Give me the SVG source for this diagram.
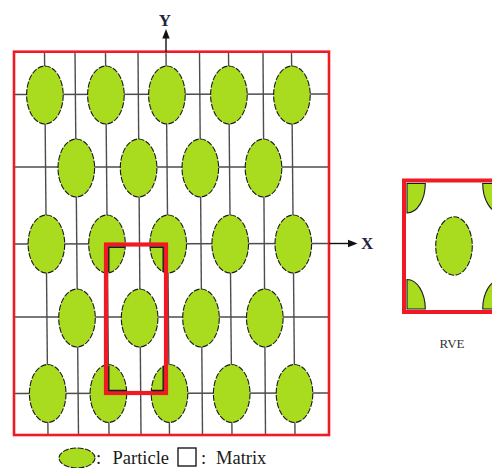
<svg xmlns="http://www.w3.org/2000/svg" xmlns:xlink="http://www.w3.org/1999/xlink" width="492" height="468" viewBox="0 0 492 468">
<style>
.p{fill:#a9dc1e;stroke:#1a1a1a;stroke-width:1.1;stroke-dasharray:6 1.5}
.g{stroke:#4d4d4d;stroke-width:1.4;fill:none}
.red{fill:none;stroke:#ee1b24}
.blk{stroke:#1a1a1a;stroke-width:1.4;fill:none}
.t{font-family:"Liberation Serif","Times New Roman",serif;fill:#1a1a1a}
.ax{stroke:#111;stroke-width:1.4;fill:none}
</style>
<defs>
<ellipse id="pe" class="p" rx="18.3" ry="29"/>
</defs>
<rect width="492" height="468" fill="#ffffff"/>
<g id="grid">
<line class="g" x1="44.5" y1="52" x2="48" y2="435"/>
<line class="g" x1="75" y1="52" x2="78.5" y2="435"/>
<line class="g" x1="105.5" y1="52" x2="109" y2="435"/>
<line class="g" x1="138" y1="52" x2="141" y2="435"/>
<line class="g" x1="166" y1="52" x2="169.5" y2="435"/>
<line class="g" x1="199.5" y1="52" x2="202.5" y2="435"/>
<line class="g" x1="228.5" y1="52" x2="232" y2="435"/>
<line class="g" x1="263" y1="52" x2="265.5" y2="435"/>
<line class="g" x1="291.5" y1="52" x2="295" y2="435"/>
<line class="g" x1="14" y1="94.5" x2="329" y2="94"/>
<line class="g" x1="14" y1="167" x2="329" y2="167"/>
<line class="g" x1="14" y1="244" x2="329" y2="243.5"/>
<line class="g" x1="14" y1="317" x2="329" y2="317"/>
<line class="g" x1="14" y1="393.5" x2="329" y2="393"/>
</g>
<g id="particles">
<use xlink:href="#pe" x="44.9" y="95"/>
<use xlink:href="#pe" x="105.9" y="95"/>
<use xlink:href="#pe" x="166.9" y="95"/>
<use xlink:href="#pe" x="228.9" y="95"/>
<use xlink:href="#pe" x="291.9" y="95"/>
<use xlink:href="#pe" x="76.3" y="168"/>
<use xlink:href="#pe" x="138.6" y="168"/>
<use xlink:href="#pe" x="200.3" y="168"/>
<use xlink:href="#pe" x="263.5" y="168"/>
<use xlink:href="#pe" x="46.4" y="244"/>
<use xlink:href="#pe" x="107" y="244"/>
<use xlink:href="#pe" x="168.2" y="244"/>
<use xlink:href="#pe" x="230.2" y="244"/>
<use xlink:href="#pe" x="293.3" y="244"/>
<use xlink:href="#pe" x="77" y="318"/>
<use xlink:href="#pe" x="139.6" y="318"/>
<use xlink:href="#pe" x="201" y="318"/>
<use xlink:href="#pe" x="264.8" y="318"/>
<use xlink:href="#pe" x="47.7" y="393.5"/>
<use xlink:href="#pe" x="108.4" y="393.5"/>
<use xlink:href="#pe" x="169.5" y="393.5"/>
<use xlink:href="#pe" x="231.7" y="393.5"/>
<use xlink:href="#pe" x="294.5" y="393.5"/>
</g>
<g id="frame">
<rect class="red" x="14" y="51.7" width="315" height="383.3" stroke-width="2.6"/>
</g>
<g id="cell">
<rect class="red" x="106" y="244.5" width="60" height="148.5" stroke-width="4.2"/>
<path class="blk" d="M108.8,247.3 H125 M108.8,246.6 V272 M163.2,247.3 H150 M163.2,246.6 V272 M108.8,390.5 H126.5 M108.8,391 V365.5 M163.2,390.5 H151.5 M163.2,391 V366.5"/>
</g>
<g id="connectors">
<line class="ax" x1="166" y1="52" x2="166" y2="36"/>
<polygon points="166,29 162.3,38.5 169.7,38.5" fill="#111"/>
<line class="ax" x1="329" y1="243.5" x2="350" y2="243.5"/>
<polygon points="357.5,243.5 348,239.8 348,247.2" fill="#111"/>
</g>
<g id="axis-labels">
<text class="t" x="165" y="25.5" font-size="17" font-weight="bold" text-anchor="middle" style="fill:#1c2440">Y</text>
<text class="t" x="361" y="249" font-size="17" font-weight="bold" style="fill:#1c2440">X</text>
</g>
<g id="rve">
<path class="p" style="stroke-dasharray:none" d="M407,183.5 H425.3 A18.3,29.5 0 0 1 407,213 Z"/>
<path class="p" style="stroke-dasharray:none" d="M407,309 V279.5 A18.3,29.5 0 0 1 425.3,309 Z"/>
<path class="p" style="stroke-dasharray:none" d="M501,183.5 V213 A18.3,29.5 0 0 1 482.7,183.5 Z"/>
<path class="p" style="stroke-dasharray:none" d="M501,309 H482.7 A18.3,29.5 0 0 1 501,279.5 Z"/>
<ellipse class="p" cx="454" cy="246" rx="18.3" ry="29.2"/>
<rect class="red" x="404" y="180.5" width="100" height="131.5" stroke-width="4"/>
<text class="t" x="452" y="347.5" font-size="13" text-anchor="middle" style="fill:#333">RVE</text>
</g>
<g id="legend">
<ellipse class="p" cx="77" cy="458" rx="18" ry="10"/>
<text class="t" x="96" y="463.5" font-size="18.5">:<tspan x="112.5">Particle</tspan></text>
<rect x="178" y="448" width="18" height="18" fill="#fff" stroke="#1a1a1a" stroke-width="1.4"/>
<text class="t" x="201" y="463.5" font-size="18.5">:<tspan x="216">Matrix</tspan></text>
</g>
</svg>
